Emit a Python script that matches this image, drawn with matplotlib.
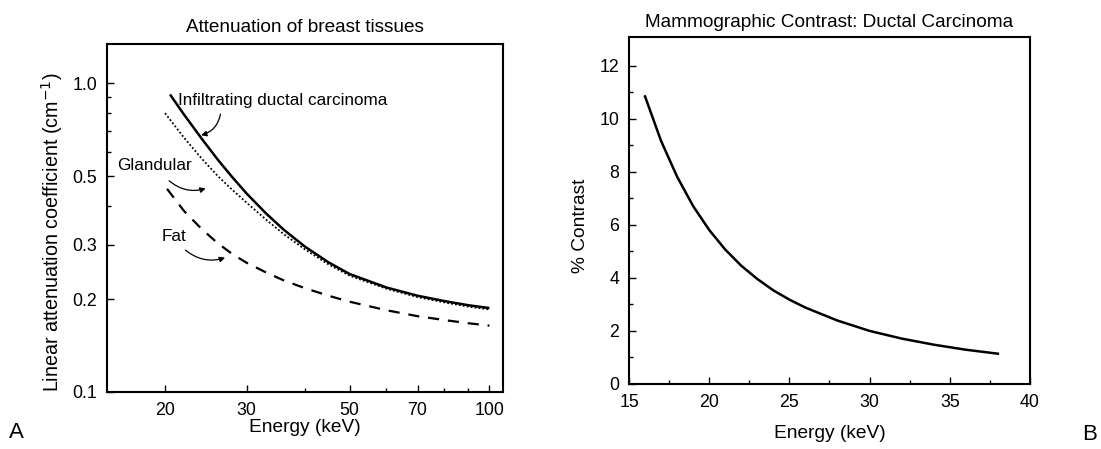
import numpy as np
import matplotlib.pyplot as plt
from matplotlib.ticker import FixedLocator, NullFormatter, FixedFormatter

plt.rcParams['font.family'] = ['Liberation Sans', 'DejaVu Sans']

# panel A: linear attenuation coefficient (cm^-1) vs energy (keV)
energy_idc = [20.5, 22, 24, 26, 28, 30, 33, 36, 40, 45, 50, 60, 70, 80, 90, 100]
mu_idc = [0.92, 0.79, 0.661, 0.565, 0.494, 0.439, 0.379, 0.336, 0.296, 0.263, 0.241,
          0.218, 0.205, 0.197, 0.191, 0.187]
energy_gland = [20, 22, 24, 26, 28, 30, 33, 36, 40, 45, 50, 60, 70, 80, 90, 100]
mu_gland = [0.80, 0.665, 0.57, 0.50, 0.45, 0.41, 0.362, 0.325, 0.29, 0.259, 0.238,
            0.216, 0.203, 0.195, 0.189, 0.185]
energy_fat = [20.2, 22, 24, 26, 28, 30, 33, 36, 40, 45, 50, 60, 70, 80, 90, 100]
mu_fat = [0.455, 0.385, 0.337, 0.303, 0.279, 0.262, 0.244, 0.23, 0.217, 0.205, 0.196,
          0.184, 0.176, 0.171, 0.167, 0.164]

# panel B: % contrast of ductal carcinoma
energy_c = [16, 17, 18, 19, 20, 21, 22, 23, 24, 25, 26, 28, 30, 32, 34, 36, 38]
contrast = [10.85, 9.17, 7.82, 6.71, 5.81, 5.07, 4.46, 3.96, 3.53, 3.18, 2.88, 2.39, 2.0,
            1.71, 1.48, 1.29, 1.14]

fig = plt.figure(figsize=(11.01, 4.49), dpi=100)
ax1 = fig.add_axes([0.0972, 0.127, 0.3597, 0.775])
ax2 = fig.add_axes([0.5713, 0.145, 0.3642, 0.773])

# --- A ---
ax1.set_xscale('log')
ax1.set_yscale('log')
ax1.plot(energy_idc, mu_idc, color='black', lw=1.8, solid_capstyle='butt')
ax1.plot(energy_gland, mu_gland, color='black', lw=1.3, ls=(0, (1, 1.2)))
ax1.plot(energy_fat, mu_fat, color='black', lw=1.6, ls=(0, (5, 4)))
ax1.set_xlim(15, 107)
ax1.set_ylim(0.1, 1.34)

ax1.xaxis.set_major_locator(FixedLocator([20, 30, 50, 70, 100]))
ax1.xaxis.set_major_formatter(FixedFormatter(['20', '30', '50', '70', '100']))
ax1.xaxis.set_minor_locator(FixedLocator([40, 60, 80, 90]))
ax1.xaxis.set_minor_formatter(NullFormatter())
ax1.yaxis.set_major_locator(FixedLocator([0.1, 0.2, 0.3, 0.5, 1.0]))
ax1.yaxis.set_major_formatter(FixedFormatter(['0.1', '0.2', '0.3', '0.5', '1.0']))
ax1.yaxis.set_minor_locator(FixedLocator([0.4, 0.6, 0.7, 0.8, 0.9]))
ax1.yaxis.set_minor_formatter(NullFormatter())

ax1.set_title('Attenuation of breast tissues', fontsize=13.7, pad=9)
ax1.set_xlabel('Energy (keV)', fontsize=13.8, labelpad=0)
ax1.set_ylabel('Linear attenuation coefficient (cm$^{-1}$)', fontsize=14.2)
ax1.yaxis.set_label_coords(-0.105, 0.46)

arrow = dict(arrowstyle='-|>', color='black', lw=0.9, mutation_scale=8)
ax1.annotate('Infiltrating ductal carcinoma', xy=(21.3, 0.88), fontsize=12.3, va='center', ha='left')
ax1.annotate('', xy=(23.6, 0.675), xytext=(26.4, 0.81),
             arrowprops=dict(connectionstyle='arc3,rad=-0.35', **arrow))
ax1.annotate('Glandular', xy=(15.8, 0.54), fontsize=12.3, va='center', ha='left')
ax1.annotate('', xy=(24.8, 0.459), xytext=(20.2, 0.49),
             arrowprops=dict(connectionstyle='arc3,rad=0.3', **arrow))
ax1.annotate('Fat', xy=(19.7, 0.318), fontsize=12.3, va='center', ha='left')
ax1.annotate('', xy=(27.3, 0.274), xytext=(21.9, 0.292),
             arrowprops=dict(connectionstyle='arc3,rad=0.3', **arrow))

# --- B ---
ax2.plot(energy_c, contrast, color='black', lw=1.8)
ax2.set_xlim(15, 40)
ax2.set_ylim(0, 13.1)
ax2.set_xticks([15, 20, 25, 30, 35, 40])
ax2.set_xticks(np.arange(17.5, 40, 5), minor=True)
ax2.set_yticks([0, 2, 4, 6, 8, 10, 12])
ax2.set_yticks(np.arange(1, 13, 2), minor=True)
ax2.set_title('Mammographic Contrast: Ductal Carcinoma', fontsize=13.7, pad=7)
ax2.set_xlabel('Energy (keV)', fontsize=13.8, labelpad=10)
ax2.set_ylabel('% Contrast', fontsize=13.8)
ax2.yaxis.set_label_coords(-0.1, 0.455)

for ax in (ax1, ax2):
    ax.tick_params(which='both', direction='in', labelsize=12.8, width=1.0)
    ax.tick_params(which='major', length=5, pad=7)
    ax.tick_params(which='minor', length=3)
    for s in ax.spines.values():
        s.set_linewidth(1.5)

fig.text(0.008, 0.025, 'A', fontsize=16)
fig.text(0.983, 0.02, 'B', fontsize=16)

fig.savefig('out.png', dpi=100)
